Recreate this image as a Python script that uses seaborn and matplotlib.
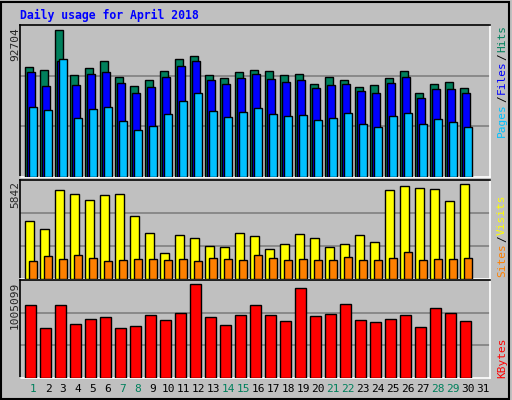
import numpy as np
import pandas as pd
import matplotlib
matplotlib.use("Agg")
import matplotlib.pyplot as plt
import seaborn as sns

days = list(range(1, 31))
weekend = [1, 7, 8, 14, 15, 21, 22, 28, 29]

# values (approximate)
hits = [69000, 67100, 92704, 64000, 68400, 72700, 62800, 57100, 60800, 66500, 74000, 75800,
        63900, 62000, 65900, 67100, 66500, 64000, 64600, 58300, 62700, 60800, 56400, 57700,
        62000, 66500, 52600, 58300, 59600, 55800]
files = [65900, 57100, 72700, 57700, 64600, 65900, 58900, 52600, 56400, 62700, 69600, 72700,
         60800, 58300, 62000, 64600, 61400, 59600, 60800, 55800, 57700, 58300, 53900, 52600,
         58900, 62700, 49500, 55200, 55200, 52600]
pages = [43800, 41900, 73900, 36900, 42500, 43800, 35000, 29400, 31900, 39400, 47500, 52600,
         41300, 37500, 40600, 43100, 39400, 38200, 38800, 35600, 36900, 40000, 33100, 31300,
         38200, 40000, 33100, 36300, 34400, 31300]
visits = [3600, 3100, 5470, 5270, 4900, 5210, 5270, 3920, 2850, 1600, 2720, 2530,
          2020, 1960, 2850, 2660, 1830, 2150, 2790, 2530, 1960, 2150, 2720, 2280,
          5470, 5720, 5650, 5590, 4840, 5842]
sites = [1100, 1410, 1220, 1480, 1290, 1100, 1160, 1220, 1220, 1160, 1220, 1100,
         1290, 1220, 1160, 1480, 1290, 1160, 1220, 1160, 1160, 1350, 1160, 1160,
         1290, 1670, 1160, 1220, 1220, 1290]
kbytes = [781000, 538000, 781000, 582000, 637000, 648000, 538000, 560000, 670000, 626000, 692000, 1005099,
          648000, 571000, 670000, 781000, 670000, 615000, 960000, 659000, 681000, 792000, 626000, 604000,
          637000, 670000, 549000, 747000, 692000, 615000]

df = pd.DataFrame({"day": days, "hits": hits, "files": files, "pages": pages,
                   "visits": visits, "sites": sites, "kbytes": kbytes})
x0 = df["day"] - 1

sns.set_style("white")
plt.rcParams["font.family"] = ["DejaVu Sans Mono"]

BG = "#C0C0C0"
fig = plt.figure(figsize=(5.12, 4.0), dpi=100, facecolor=BG)
W, H = 512, 400


def panel(top, bottom):
    ax = fig.add_axes([20 / W, 1 - bottom / H, 470 / W, (bottom - top) / H])
    ax.set_facecolor(BG)
    return ax


def finish(ax):
    ax.set_xlim(-0.333, 31)
    ax.set_xticks([]); ax.set_yticks([])
    ax.set_xlabel(""); ax.set_ylabel("")
    for s in ("left", "top"):
        ax.spines[s].set_color("black")
    for s in ("right", "bottom"):
        ax.spines[s].set_color("white")
    for s in ax.spines.values():
        s.set_linewidth(1.2)


def grid(ax, ymax):
    ax.set_ylim(0, ymax)
    for g in (ymax / 3, 2 * ymax / 3):
        ax.axhline(g, color="#808080", lw=1.2, zorder=1)


def bars(ax, xs, vals, color, width):
    sns.barplot(x=xs, y=vals, native_scale=True, width=width, color=color,
                edgecolor="black", linewidth=1, saturation=1, ax=ax, zorder=3)


# top panel: hits / files / pages
ax1 = panel(25, 177)
grid(ax1, 92704 * 151.5 / 147)
bars(ax1, x0 + 0.267, df["hits"], "#00805C", 0.533)
bars(ax1, x0 + 0.4, df["files"], "#0000FF", 0.533)
bars(ax1, x0 + 0.533, df["pages"], "#00C0FF", 0.533)
finish(ax1)

# middle panel: visits / sites
ax2 = panel(180, 279)
grid(ax2, 5842 * 290 / 277)
bars(ax2, x0 + 0.29, df["visits"], "#FFFF00", 0.56)
bars(ax2, x0 + 0.53, df["sites"], "#FF8000", 0.5)
finish(ax2)

# bottom panel: kbytes
ax3 = panel(280, 378)
grid(ax3, 1005099 * 285 / 273)
bars(ax3, x0 + 0.36, df["kbytes"], "#FF0000", 0.7)
finish(ax3)

# texts
fig.text(20 / W, 1 - 15 / H, "Daily usage for April 2018", color="#0000FF",
         fontsize=8.3, fontweight="bold", va="center", ha="left")
fig.text(15 / W, 1 - 27 / H, "92704", rotation=90, fontsize=8, va="top", ha="center")
fig.text(15 / W, 1 - 181 / H, "5842", rotation=90, fontsize=8, va="top", ha="center")
fig.text(15 / W, 1 - 282 / H, "1005099", rotation=90, fontsize=8, va="top", ha="center")

renderer = fig.canvas.get_renderer()


def right_stack(parts, ybottom):
    y = ybottom
    for txt, col in parts:
        t = fig.text(502 / W, 1 - y / H, txt, rotation=90, fontsize=8, color=col,
                     va="bottom", ha="center")
        y -= t.get_window_extent(renderer).height + 1


right_stack([("Pages", "#00C0FF"), ("/", "black"), ("Files", "#0000FF"), ("/", "black"),
             ("Hits", "#00805C")], 137)
right_stack([("Sites", "#FF8000"), ("/", "black"), ("Visits", "#FFFF00")], 277)
right_stack([("KBytes", "#FF0000")], 378)

for d in range(1, 32):
    col = "#00805C" if d in weekend else "black"
    fig.text((33 + (d - 1) * 15) / W, 1 - 389 / H, str(d), color=col,
             fontsize=8, ha="center", va="center")

# frame
fig.patches.append(plt.Rectangle((0.002, 0.003), 0.993, 0.993, transform=fig.transFigure,
                                 fill=False, edgecolor="black", lw=1.5))

fig.savefig("out.png", dpi=100, facecolor=BG)
